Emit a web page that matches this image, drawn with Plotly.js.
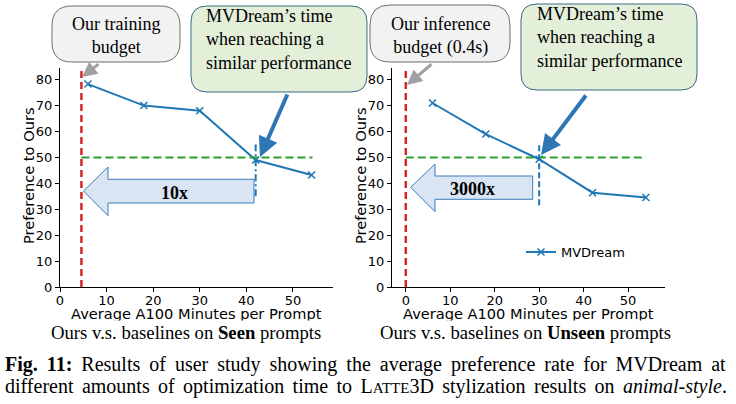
<!DOCTYPE html>
<html><head><meta charset="utf-8">
<script src="https://cdn.plot.ly/plotly-3.0.1.min.js"></script>
<style>html,body{margin:0;padding:0;background:#fff}#chart{width:736px;height:404px}</style>
</head><body><div id="chart"></div>
<script>
// ---- data ----
const minutes = [6, 18, 30, 42, 54];
const seenPref = [78.3, 70, 68, 49, 43.2];
const unseenPref = [71, 59, 49.3, 36.4, 34.5];
const seriesName = 'MVDream';
const budgetSeen = 4.6;      // our training budget (minutes)
const budgetUnseen = 0;      // our inference budget (0.4 s)
const matchSeen = 42;        // MVDream time reaching similar performance
const matchUnseen = 30;
const parity = 50;
const speedLabels = ['10x', '3000x'];
const xTicks = [0, 10, 20, 30, 40, 50];
const yTicks = [0, 10, 20, 30, 40, 50, 60, 70, 80];

const W = 736, H = 404;
const X = v => v / W, Y = v => 1 - v / H;
const f = v => v.toFixed(5);
function rr(x0, y0, x1, y1, r) {
  const a = v => f(X(v)), b = v => f(Y(v));
  return `M${a(x0+r)},${b(y0)} L${a(x1-r)},${b(y0)} Q${a(x1)},${b(y0)} ${a(x1)},${b(y0+r)} ` +
    `L${a(x1)},${b(y1-r)} Q${a(x1)},${b(y1)} ${a(x1-r)},${b(y1)} L${a(x0+r)},${b(y1)} ` +
    `Q${a(x0)},${b(y1)} ${a(x0)},${b(y1-r)} L${a(x0)},${b(y0+r)} Q${a(x0)},${b(y0)} ${a(x0+r)},${b(y0)} Z`;
}
function poly(pts) {
  return 'M' + pts.map(p => f(X(p[0])) + ',' + f(Y(p[1]))).join(' L') + ' Z';
}

const blue = '#1f77b4', red = '#d62728', green = '#2ca02c';
const tickFont = {family: 'DejaVu Sans', size: 13, color: '#000'};
const serif = 'Liberation Serif';

const traces = [
  {x: minutes, y: seenPref, xaxis: 'x', yaxis: 'y', mode: 'lines+markers', name: seriesName, showlegend: false,
   line: {color: blue, width: 2}, marker: {symbol: 'x-thin', size: 7, line: {width: 1.5, color: blue}}},
  {x: minutes, y: unseenPref, xaxis: 'x2', yaxis: 'y2', mode: 'lines+markers', name: seriesName, showlegend: true,
   line: {color: blue, width: 2}, marker: {symbol: 'x-thin', size: 7, line: {width: 1.5, color: blue}}}
];

function axX(domain, range) {
  return {domain, range, tickvals: xTicks, ticks: 'outside', ticklen: 4, tickwidth: 1, tickcolor: '#000',
    ticklabelstandoff: -3,
    showline: true, linecolor: '#000', linewidth: 1.2, showgrid: false, zeroline: false, tickfont: tickFont, fixedrange: true};
}
function axY(domain, range, anchor) {
  return {domain, range, anchor, tickvals: yTicks, ticks: 'outside', ticklen: 4, tickwidth: 1, tickcolor: '#000',
    showline: true, linecolor: '#000', linewidth: 1.2, showgrid: false, zeroline: false, tickfont: tickFont, fixedrange: true};
}

const yTop = 84.5;
const shapes = [
  // reference lines (data coords)
  {type: 'line', xref: 'x', yref: 'y', x0: budgetSeen, x1: budgetSeen, y0: 0, y1: yTop, line: {color: red, width: 2.5, dash: '7px,4px'}},
  {type: 'line', xref: 'x', yref: 'y', x0: budgetSeen, x1: 54.2, y0: parity, y1: parity, line: {color: green, width: 2, dash: '8px,4px'}},
  {type: 'line', xref: 'x', yref: 'y', x0: matchSeen, x1: matchSeen, y0: 35, y1: 55, line: {color: blue, width: 2, dash: '7px,3px,2px,3px'}},
  {type: 'line', xref: 'x2', yref: 'y2', x0: budgetUnseen, x1: budgetUnseen, y0: 0, y1: yTop, line: {color: red, width: 2.5, dash: '7px,4px'}},
  {type: 'line', xref: 'x2', yref: 'y2', x0: budgetUnseen, x1: 54, y0: parity, y1: parity, line: {color: green, width: 2, dash: '8px,4px'}},
  {type: 'line', xref: 'x2', yref: 'y2', x0: matchUnseen, x1: matchUnseen, y0: 31.5, y1: 55, line: {color: blue, width: 2, dash: '6px,3px'}},
  // big arrows
  {type: 'path', xref: 'paper', yref: 'paper', layer: 'below', fillcolor: '#dae5f4', line: {color: '#3a7bbf', width: 1},
   path: poly([[83.5,191],[108,167],[108,179.3],[254,179.3],[254,203],[108,203],[108,215.7]])},
  {type: 'path', xref: 'paper', yref: 'paper', layer: 'below', fillcolor: '#dae5f4', line: {color: '#3a7bbf', width: 1},
   path: poly([[410.7,187.3],[435,164],[435,176],[532.7,176],[532.7,199.3],[435,199.3],[435,211.7]])},
  // callouts
  {type: 'path', xref: 'paper', yref: 'paper', fillcolor: '#f2f2f2', line: {color: '#6f6f6f', width: 1}, path: rr(52, 6, 180, 62, 20)},
  {type: 'path', xref: 'paper', yref: 'paper', fillcolor: '#e3efd9', line: {color: '#3d6a84', width: 1}, path: rr(191, 6, 367, 92, 16)},
  {type: 'path', xref: 'paper', yref: 'paper', fillcolor: '#f2f2f2', line: {color: '#6f6f6f', width: 1}, path: rr(370, 5, 510, 62, 20)},
  {type: 'path', xref: 'paper', yref: 'paper', fillcolor: '#e3efd9', line: {color: '#3d6a84', width: 1}, path: rr(521, 4, 697, 90, 16)}
];

function ann(text, x, y, opts) {
  return Object.assign({xref: 'paper', yref: 'paper', x: X(x), y: Y(y), text, showarrow: false,
    xanchor: 'center', yanchor: 'middle'}, opts || {});
}
function arrow(hx, hy, tx, ty, color, width, size) {
  return {xref: 'paper', yref: 'paper', x: X(hx), y: Y(hy), axref: 'pixel', ayref: 'pixel', ax: tx - hx, ay: ty - hy,
    text: '', showarrow: true, arrowhead: 2, arrowsize: size, arrowwidth: width, arrowcolor: color, standoff: 0};
}
const calloutFont = {family: serif, size: 18, color: '#000'};
const titleFont = {family: 'DejaVu Sans', size: 14.6, color: '#000'};
const subFont = {family: serif, size: 18.7, color: '#000'};
const capFont = {family: serif, size: 20, color: '#000'};
const annotations = [
  ann('Our training<br>budget', 116, 36, {font: calloutFont}),
  ann('MVDream’s time<br>when reaching a<br>similar performance', 204, 40, {xanchor: 'left', align: 'left', font: calloutFont}),
  ann('Our inference<br>budget (0.4s)', 440, 36, {font: calloutFont}),
  ann('MVDream’s time<br>when reaching a<br>similar performance', 535, 38, {xanchor: 'left', align: 'left', font: calloutFont}),
  ann('<b>' + speedLabels[0] + '</b>', 174, 193, {font: calloutFont}),
  ann('<b>' + speedLabels[1] + '</b>', 472.7, 189.3, {font: calloutFont}),
  arrow(82, 77, 100, 63, '#a0a0a0', 3, 1),
  arrow(407, 85, 433, 63, '#a0a0a0', 3, 1),
  arrow(260, 157, 288, 93, '#2e75b6', 4, 1),
  arrow(541, 155, 587, 94, '#2e75b6', 4, 1),
  // axis titles
  ann('Preference to Ours', 29, 176, {textangle: -90, font: titleFont}),
  ann('Preference to Ours', 361, 176, {textangle: -90, font: titleFont}),
  ann('Average A100 Minutes per Prompt', 196.5, 313, {font: titleFont}),
  ann('Average A100 Minutes per Prompt', 528.7, 313, {font: titleFont}),
  ann('Ours v.s. baselines on <b>Seen</b> prompts', 186, 332, {font: subFont, bgcolor: '#fff', borderpad: 1}),
  ann('Ours v.s. baselines on <b>Unseen</b> prompts', 525.8, 332, {font: subFont, bgcolor: '#fff', borderpad: 1}),
  // caption
  ann('<span style="word-spacing:4px"><b>Fig. 11:</b> Results of user study showing the average preference rate for MVDream at</span>', 3, 364,
      {xanchor: 'left', font: capFont}),
  ann('<span style="word-spacing:3.4px">different amounts of optimization time to L<span style="font-size:15px">ATTE</span>3D stylization results on <i>animal-style</i>.</span>', 3, 386,
      {xanchor: 'left', font: capFont})
];

const layout = {
  width: W, height: H, margin: {l: 0, r: 0, t: 0, b: 0},
  paper_bgcolor: '#fff', plot_bgcolor: 'rgba(0,0,0,0)',
  xaxis: axX([X(60), X(333)], [0, 58.6]),
  yaxis: axY([Y(287), Y(68)], [0, yTop], 'x'),
  xaxis2: Object.assign(axX([X(392), X(665)], [-3.1, 58.3]), {anchor: 'y2'}),
  yaxis2: axY([Y(287), Y(68)], [0, yTop], 'x2'),
  showlegend: true,
  legend: {x: X(521), y: Y(252), xanchor: 'left', yanchor: 'middle', bgcolor: 'rgba(0,0,0,0)',
           font: {family: 'DejaVu Sans', size: 13, color: '#000'}},
  shapes, annotations
};
Plotly.newPlot('chart', traces, layout, {displayModeBar: false, staticPlot: true});
</script>
</body></html>
